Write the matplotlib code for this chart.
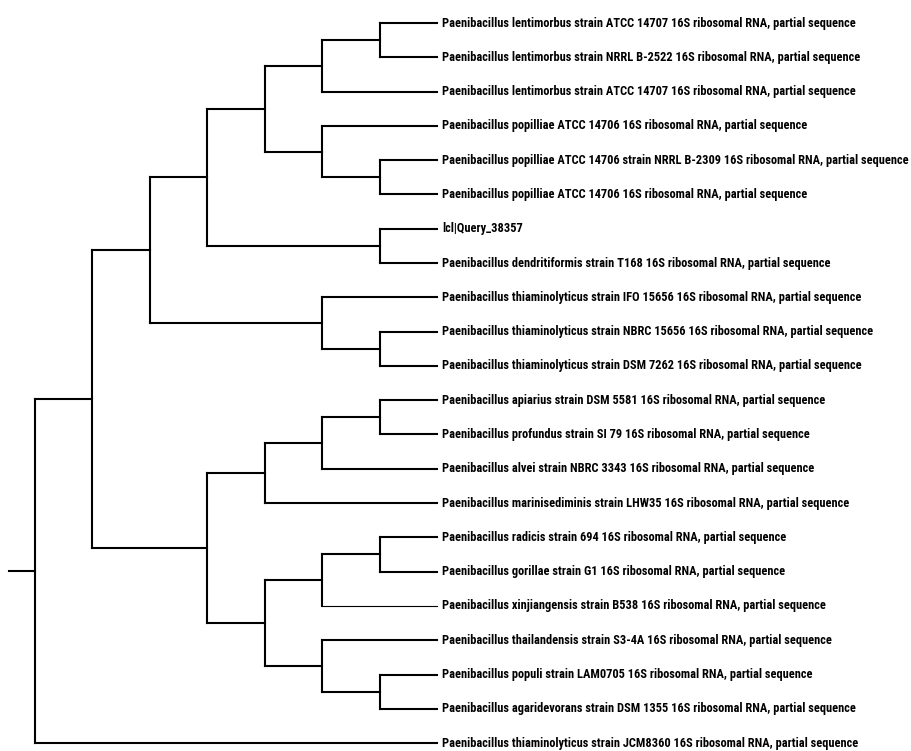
import matplotlib
matplotlib.use("Agg")
import matplotlib.pyplot as plt
from matplotlib import font_manager as fm

# ---- data ----
labels = [
    "Paenibacillus lentimorbus strain ATCC 14707 16S ribosomal RNA, partial sequence",
    "Paenibacillus lentimorbus strain NRRL B-2522 16S ribosomal RNA, partial sequence",
    "Paenibacillus lentimorbus strain ATCC 14707 16S ribosomal RNA, partial sequence",
    "Paenibacillus popilliae ATCC 14706 16S ribosomal RNA, partial sequence",
    "Paenibacillus popilliae ATCC 14706 strain NRRL B-2309 16S ribosomal RNA, partial sequence",
    "Paenibacillus popilliae ATCC 14706 16S ribosomal RNA, partial sequence",
    "lcl|Query_38357",
    "Paenibacillus dendritiformis strain T168 16S ribosomal RNA, partial sequence",
    "Paenibacillus thiaminolyticus strain IFO 15656 16S ribosomal RNA, partial sequence",
    "Paenibacillus thiaminolyticus strain NBRC 15656 16S ribosomal RNA, partial sequence",
    "Paenibacillus thiaminolyticus strain DSM 7262 16S ribosomal RNA, partial sequence",
    "Paenibacillus apiarius strain DSM 5581 16S ribosomal RNA, partial sequence",
    "Paenibacillus profundus strain SI 79 16S ribosomal RNA, partial sequence",
    "Paenibacillus alvei strain NBRC 3343 16S ribosomal RNA, partial sequence",
    "Paenibacillus marinisediminis strain LHW35 16S ribosomal RNA, partial sequence",
    "Paenibacillus radicis strain 694 16S ribosomal RNA, partial sequence",
    "Paenibacillus gorillae strain G1 16S ribosomal RNA, partial sequence",
    "Paenibacillus xinjiangensis strain B538 16S ribosomal RNA, partial sequence",
    "Paenibacillus thailandensis strain S3-4A 16S ribosomal RNA, partial sequence",
    "Paenibacillus populi strain LAM0705 16S ribosomal RNA, partial sequence",
    "Paenibacillus agaridevorans strain DSM 1355 16S ribosomal RNA, partial sequence",
    "Paenibacillus thiaminolyticus strain JCM8360 16S ribosomal RNA, partial sequence",
]
leaf_depth = 7
# internal nodes: (depth, [children]) ; ints are leaf indices
tree = (0, [
    (1, [
        (2, [
            (3, [
                (4, [
                    (5, [(6, [0, 1]), 2]),
                    (5, [3, (6, [4, 5])]),
                ]),
                (6, [6, 7]),
            ]),
            (5, [8, (6, [9, 10])]),
        ]),
        (3, [
            (4, [
                (5, [(6, [11, 12]), 13]),
                14,
            ]),
            (4, [
                (5, [(6, [15, 16]), 17]),
                (5, [18, (6, [19, 20])]),
            ]),
        ]),
    ]),
    21,
])
thin_leaves = [17]
root_stub = 0.45

# ---- pick a narrow font if one is installed ----
def pick_font():
    prefs = ["Liberation Sans Narrow", "Roboto Condensed", "Open Sans Condensed",
             "Noto Sans", "Open Sans", "DejaVu Sans"]
    cands = []
    for f in fm.fontManager.ttflist:
        narrow = ("Narrow" in f.name or "Condensed" in f.name or
                  str(f.stretch) in ("condensed", "semi-condensed", "extra-condensed",
                                     "ultra-condensed") or
                  (isinstance(f.stretch, int) and f.stretch < 500))
        if not narrow:
            continue
        w = f.weight if isinstance(f.weight, int) else {"bold": 700, "normal": 400}.get(f.weight, 400)
        style_ok = f.style == "normal"
        if not style_ok:
            continue
        rank = next((i for i, p in enumerate(prefs) if f.name.startswith(p)), 99)
        cands.append((rank, abs(w - 700), f.fname))
    if cands:
        cands.sort()
        return fm.FontProperties(fname=cands[0][2])
    return fm.FontProperties(family="DejaVu Sans", stretch="condensed", weight="bold")

fprop = pick_font()

# ---- figure ----
W, H, DPI = 912, 751, 100
fig = plt.figure(figsize=(W / DPI, H / DPI), dpi=DPI)
ax = fig.add_axes([0, 0, 1, 1])
ax.set_axis_off()

px_per_level = 57.43
px_per_leaf = 34.29
x0_px, y0_px = 35, 23
ax.set_xlim(-x0_px / px_per_level, (W - x0_px) / px_per_level)
ax.set_ylim((H - y0_px) / px_per_leaf, -y0_px / px_per_leaf)

LW = 1.5
line_kw = dict(color="black", solid_capstyle="projecting")


def draw(node):
    """returns (x, y) of node"""
    if isinstance(node, int):
        return leaf_depth, node
    depth, children = node
    pts = [draw(c) for c in children]
    ys = [p[1] for p in pts]
    for c, (cx, cy) in zip(children, pts):
        lw = 0.8 if (isinstance(c, int) and c in thin_leaves) else LW
        ax.plot([depth, cx], [cy, cy], lw=lw, **line_kw)
    ax.plot([depth, depth], [min(ys), max(ys)], lw=LW, **line_kw)
    return depth, (min(ys) + max(ys)) / 2


rx, ry = draw(tree)
ax.plot([rx - root_stub, rx], [ry, ry], lw=LW, **line_kw)

texts = []
for i, lab in enumerate(labels):
    t = ax.text(leaf_depth + 5 / px_per_level, i, lab, ha="left", va="center",
                fontproperties=fprop, fontsize=8)
    texts.append(t)

# fit font size so the longest label spans ~466 px
fig.canvas.draw()
r = fig.canvas.get_renderer()
longest = max(t.get_window_extent(r).width for t in texts)
fs = 8 * 466 / longest
for t in texts:
    t.set_fontsize(fs)

fig.savefig("out.png", dpi=DPI)
